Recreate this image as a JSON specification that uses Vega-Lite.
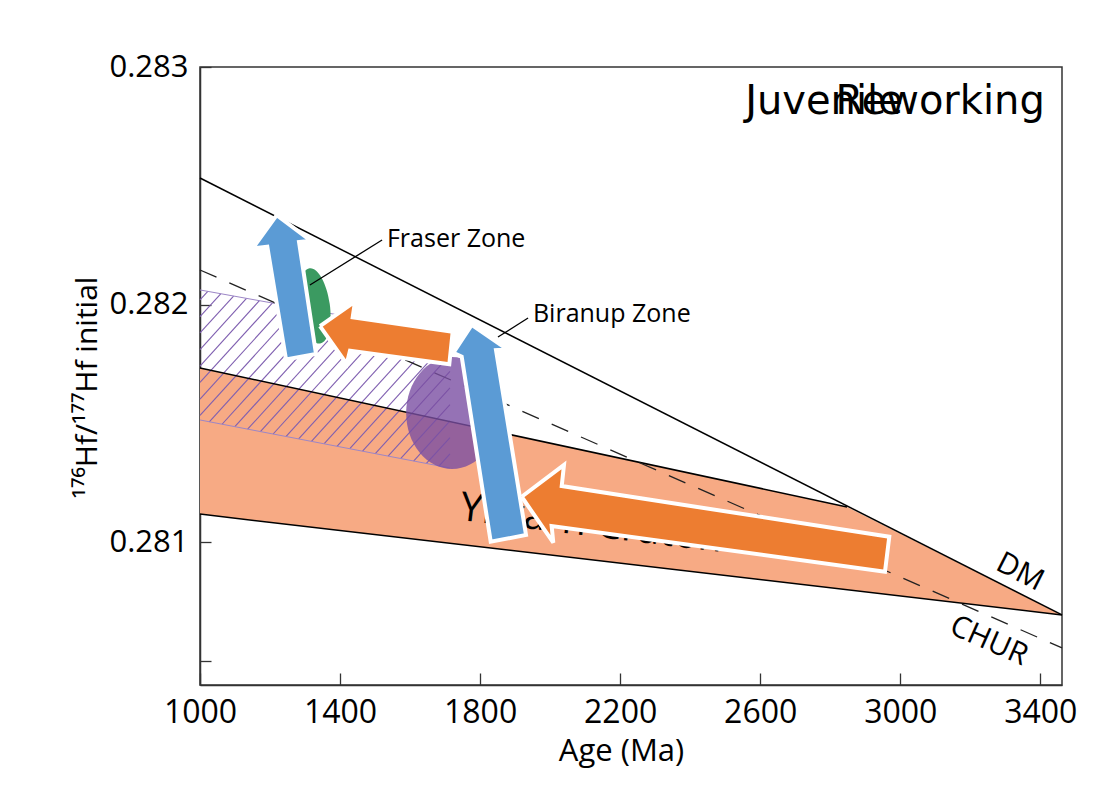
{
  "$schema": "https://vega.github.io/schema/vega-lite/v6.json",
  "width": 862,
  "height": 618,
  "autosize": {"type": "none"},
  "padding": {"left": 200, "top": 67, "right": 57, "bottom": 110},
  "background": "white",
  "config": {"view": {"stroke": "#333333", "strokeWidth": 1.5}, "font": "Open Sans"},
  "datasets": {
    "salmon": [
      {"x": 1000, "y": 0.281734, "i": 0},
      {"x": 2848, "y": 0.281149, "i": 1},
      {"x": 3462, "y": 0.280695, "i": 2},
      {"x": 1000, "y": 0.281119, "i": 3}
    ],
    "blines": [
      {"id": "DM", "x": 1000, "y": 0.282533}, {"id": "DM", "x": 3462, "y": 0.280695},
      {"id": "top", "x": 1000, "y": 0.281734}, {"id": "top", "x": 2848, "y": 0.281149},
      {"id": "bot", "x": 1000, "y": 0.281119}, {"id": "bot", "x": 3462, "y": 0.280695}
    ],
    "chur": [{"x": 1000, "y": 0.282146}, {"x": 3462, "y": 0.280556}],
    "hbound": [
      {"id": "t", "x": 1000, "y": 0.282062}, {"id": "t", "x": 1714, "y": 0.281872},
      {"id": "b", "x": 1000, "y": 0.281515}, {"id": "b", "x": 1714, "y": 0.281313}
    ],
    "hatch": [
      {"x": 1000, "y": 0.28202, "x2": 1022.3, "y2": 0.282056},
      {"x": 1000, "y": 0.28195, "x2": 1059.1, "y2": 0.282046},
      {"x": 1000, "y": 0.281881, "x2": 1095.9, "y2": 0.282036},
      {"x": 1000, "y": 0.281811, "x2": 1132.8, "y2": 0.282027},
      {"x": 1000, "y": 0.281742, "x2": 1169.6, "y2": 0.282017},
      {"x": 1000, "y": 0.281673, "x2": 1206.4, "y2": 0.282007},
      {"x": 1000, "y": 0.281603, "x2": 1243.2, "y2": 0.281997},
      {"x": 1000, "y": 0.281534, "x2": 1280.0, "y2": 0.281988},
      {"x": 1026.5, "y": 0.281507, "x2": 1316.9, "y2": 0.281978},
      {"x": 1063.0, "y": 0.281497, "x2": 1353.7, "y2": 0.281968},
      {"x": 1099.5, "y": 0.281487, "x2": 1390.5, "y2": 0.281958},
      {"x": 1136.0, "y": 0.281476, "x2": 1427.3, "y2": 0.281949},
      {"x": 1172.4, "y": 0.281466, "x2": 1464.1, "y2": 0.281939},
      {"x": 1208.9, "y": 0.281456, "x2": 1500.9, "y2": 0.281929},
      {"x": 1245.4, "y": 0.281445, "x2": 1537.8, "y2": 0.281919},
      {"x": 1281.8, "y": 0.281435, "x2": 1574.6, "y2": 0.28191},
      {"x": 1318.3, "y": 0.281425, "x2": 1611.4, "y2": 0.2819},
      {"x": 1354.8, "y": 0.281415, "x2": 1648.2, "y2": 0.28189},
      {"x": 1391.3, "y": 0.281404, "x2": 1685.0, "y2": 0.28188},
      {"x": 1427.8, "y": 0.281394, "x2": 1714, "y2": 0.281858},
      {"x": 1464.2, "y": 0.281384, "x2": 1714, "y2": 0.281788},
      {"x": 1500.7, "y": 0.281373, "x2": 1714, "y2": 0.281719},
      {"x": 1537.2, "y": 0.281363, "x2": 1714, "y2": 0.28165},
      {"x": 1573.6, "y": 0.281353, "x2": 1714, "y2": 0.28158},
      {"x": 1610.1, "y": 0.281342, "x2": 1714, "y2": 0.281511},
      {"x": 1646.6, "y": 0.281332, "x2": 1714, "y2": 0.281441},
      {"x": 1683.1, "y": 0.281322, "x2": 1714, "y2": 0.281372}
    ],
    "arrows": [
      {"a": "blue1", "i": 0, "x": 1219.1, "y": 0.282377},
      {"a": "blue1", "i": 1, "x": 1316.2, "y": 0.282269},
      {"a": "blue1", "i": 2, "x": 1282.8, "y": 0.282264},
      {"a": "blue1", "i": 3, "x": 1331.3, "y": 0.281793},
      {"a": "blue1", "i": 4, "x": 1245.6, "y": 0.28177},
      {"a": "blue1", "i": 5, "x": 1192.2, "y": 0.282244},
      {"a": "blue1", "i": 6, "x": 1150.5, "y": 0.282237},
      {"a": "blue1", "i": 7, "x": 1219.1, "y": 0.282377},
      {"a": "orange1", "i": 0, "x": 1342.7, "y": 0.28191},
      {"a": "orange1", "i": 1, "x": 1442.7, "y": 0.282013},
      {"a": "orange1", "i": 2, "x": 1436.1, "y": 0.281947},
      {"a": "orange1", "i": 3, "x": 1721.7, "y": 0.281886},
      {"a": "orange1", "i": 4, "x": 1712.0, "y": 0.281749},
      {"a": "orange1", "i": 5, "x": 1428.4, "y": 0.281806},
      {"a": "orange1", "i": 6, "x": 1419.0, "y": 0.281751},
      {"a": "orange1", "i": 7, "x": 1342.7, "y": 0.28191},
      {"a": "blue2", "i": 0, "x": 1776.0, "y": 0.281915},
      {"a": "blue2", "i": 1, "x": 1877.7, "y": 0.281812},
      {"a": "blue2", "i": 2, "x": 1845.4, "y": 0.281809},
      {"a": "blue2", "i": 3, "x": 1931.1, "y": 0.281031},
      {"a": "blue2", "i": 4, "x": 1830.3, "y": 0.281003},
      {"a": "blue2", "i": 5, "x": 1747.4, "y": 0.281781},
      {"a": "blue2", "i": 6, "x": 1723.4, "y": 0.281797},
      {"a": "blue2", "i": 7, "x": 1776.0, "y": 0.281915},
      {"a": "orange2", "i": 0, "x": 1918.8, "y": 0.281192},
      {"a": "orange2", "i": 1, "x": 2039.6, "y": 0.281326},
      {"a": "orange2", "i": 2, "x": 2033.1, "y": 0.281237},
      {"a": "orange2", "i": 3, "x": 2968.7, "y": 0.281024},
      {"a": "orange2", "i": 4, "x": 2956.4, "y": 0.280877},
      {"a": "orange2", "i": 5, "x": 2004.3, "y": 0.281069},
      {"a": "orange2", "i": 6, "x": 2009.1, "y": 0.280999},
      {"a": "orange2", "i": 7, "x": 1918.8, "y": 0.281192}
    ],
    "leaders": [
      {"x": 1314, "y": 0.282083, "x2": 1520, "y2": 0.282272},
      {"x": 1851, "y": 0.281864, "x2": 1937, "y2": 0.281944}
    ]
  },
  "encoding": {
    "x": {
      "field": "x", "type": "quantitative",
      "scale": {"domain": [1000, 3462], "nice": false, "zero": false},
      "axis": {
        "title": "Age (Ma)", "values": [1000, 1400, 1800, 2200, 2600, 3000, 3400], "format": "d",
        "grid": false, "tickSize": -12, "tickColor": "#333333", "tickWidth": 1.3,
        "domainColor": "#333333", "domainWidth": 1.5,
        "labelFont": "Open Sans", "labelFontSize": 32, "labelColor": "#000000",
        "labelBaseline": "alphabetic", "labelPadding": 49, "labelFlush": false, "labelOverlap": false,
        "titleFont": "Open Sans", "titleFontSize": 31, "titleFontWeight": "normal", "titleColor": "#000000",
        "titleX": 421, "titleY": 75, "titleBaseline": "alphabetic"
      }
    },
    "y": {
      "field": "y", "type": "quantitative",
      "scale": {"domain": [0.2804, 0.283], "nice": false, "zero": false},
      "axis": {
        "title": "¹⁷⁶Hf/¹⁷⁷Hf initial", "values": [0.2805, 0.281, 0.282, 0.283],
        "labelExpr": "datum.value < 0.2808 ? '' : format(datum.value, '.3f')",
        "grid": false, "tickSize": -11, "tickColor": "#333333", "tickWidth": 1.3,
        "domainColor": "#333333", "domainWidth": 1.5,
        "labelFont": "Open Sans", "labelFontSize": 31, "labelColor": "#000000",
        "labelBaseline": "middle", "labelPadding": 23, "labelFlush": false, "labelOverlap": false,
        "titleFont": "Open Sans", "titleFontSize": 30, "titleFontWeight": "normal", "titleColor": "#000000",
        "titleX": -104, "titleY": 320, "titleBaseline": "alphabetic"
      }
    }
  },
  "layer": [
    {
      "data": {"name": "salmon"},
      "mark": {"type": "line", "filled": true, "fill": "#F7AA84", "stroke": "transparent", "strokeWidth": 0},
      "encoding": {"order": {"field": "i", "type": "quantitative"}}
    },
    {
      "data": {"name": "hatch"},
      "mark": {"type": "rule", "color": "#7F5FB0", "strokeWidth": 1.1},
      "encoding": {"x2": {"field": "x2"}, "y2": {"field": "y2"}}
    },
    {
      "data": {"name": "hbound"},
      "mark": {"type": "line", "color": "#9C86C6", "strokeWidth": 1},
      "encoding": {"detail": {"field": "id"}}
    },
    {
      "data": {"name": "blines"},
      "mark": {"type": "line", "color": "#000000", "strokeWidth": 1.5},
      "encoding": {"detail": {"field": "id"}}
    },
    {
      "data": {"name": "chur"},
      "mark": {"type": "line", "color": "#222222", "strokeWidth": 1.3, "strokeDash": [18, 14]},
      "encoding": {}
    },
    {
      "data": {"values": [{"x": 1720, "y": 0.281544}]},
      "mark": {"type": "point", "filled": true, "color": "#7B4FA3", "opacity": 0.8, "strokeWidth": 0, "size": 12544,
        "shape": "M-0.82,0C-0.82,-0.5523,-0.4529,-1,0,-1C0.4529,-1,0.82,-0.5523,0.82,0C0.82,0.5523,0.4529,1,0,1C-0.4529,1,-0.82,0.5523,-0.82,0Z"}
    },
    {
      "data": {"values": [{"x": 1328, "y": 0.281995}]},
      "mark": {"type": "point", "filled": true, "color": "#3B9A61", "opacity": 1, "strokeWidth": 0, "size": 5776, "angle": -8,
        "shape": "M-0.395,0C-0.395,-0.5523,-0.2182,-1,0,-1C0.2182,-1,0.395,-0.5523,0.395,0C0.395,0.5523,0.2182,1,0,1C-0.2182,1,-0.395,0.5523,-0.395,0Z"}
    },
    {
      "data": {"values": [{"x": 2114, "y": 0.281027, "t": "Yilgarn Craton"}]},
      "mark": {"type": "text", "font": "Open Sans", "fontSize": 40, "angle": 7, "align": "center", "baseline": "alphabetic", "color": "#000000"},
      "encoding": {"text": {"field": "t"}}
    },
    {
      "data": {"name": "leaders"},
      "mark": {"type": "rule", "color": "#000000", "strokeWidth": 1.3},
      "encoding": {"x2": {"field": "x2"}, "y2": {"field": "y2"}}
    },
    {
      "data": {"name": "arrows"},
      "transform": [{"filter": "datum.a === 'blue1'"}],
      "mark": {"type": "line", "filled": true, "fill": "#5B9BD5", "stroke": "white", "strokeWidth": 4, "strokeJoin": "miter"},
      "encoding": {"order": {"field": "i", "type": "quantitative"}}
    },
    {
      "data": {"name": "arrows"},
      "transform": [{"filter": "datum.a === 'orange1'"}],
      "mark": {"type": "line", "filled": true, "fill": "#ED7D31", "stroke": "white", "strokeWidth": 4, "strokeJoin": "miter"},
      "encoding": {"order": {"field": "i", "type": "quantitative"}}
    },
    {
      "data": {"name": "arrows"},
      "transform": [{"filter": "datum.a === 'blue2'"}],
      "mark": {"type": "line", "filled": true, "fill": "#5B9BD5", "stroke": "white", "strokeWidth": 4, "strokeJoin": "miter"},
      "encoding": {"order": {"field": "i", "type": "quantitative"}}
    },
    {
      "data": {"name": "arrows"},
      "transform": [{"filter": "datum.a === 'orange2'"}],
      "mark": {"type": "line", "filled": true, "fill": "#ED7D31", "stroke": "white", "strokeWidth": 4, "strokeJoin": "miter"},
      "encoding": {"order": {"field": "i", "type": "quantitative"}}
    },
    {
      "data": {"values": [{"x": 1534, "y": 0.282276, "t": "Fraser Zone"}, {"x": 1951, "y": 0.281961, "t": "Biranup Zone"}]},
      "mark": {"type": "text", "font": "Open Sans", "fontSize": 25, "align": "left", "baseline": "middle", "color": "#000000"},
      "encoding": {"text": {"field": "t"}}
    },
    {
      "data": {"values": [{"x": 3342, "y": 0.280875, "t": "DM"}]},
      "mark": {"type": "text", "font": "Open Sans", "fontSize": 30, "angle": 27, "align": "center", "baseline": "middle", "color": "#000000"},
      "encoding": {"text": {"field": "t"}}
    },
    {
      "data": {"values": [{"x": 3253, "y": 0.280585, "t": "CHUR"}]},
      "mark": {"type": "text", "font": "Open Sans", "fontSize": 30, "angle": 24, "align": "center", "baseline": "middle", "color": "#000000"},
      "encoding": {"text": {"field": "t"}}
    },
    {
      "data": {"values": [{"x": 2557, "y": 0.282802, "t": "Juvenile"}]},
      "mark": {"type": "text", "font": "DejaVu Sans", "fontSize": 40, "align": "left", "baseline": "alphabetic", "color": "#000000"},
      "encoding": {"text": {"field": "t"}}
    },
    {
      "data": {"values": [{"x": 3413, "y": 0.282802, "t": "Reworking"}]},
      "mark": {"type": "text", "font": "DejaVu Sans", "fontSize": 40, "align": "right", "baseline": "alphabetic", "color": "#000000"},
      "encoding": {"text": {"field": "t"}}
    }
  ]
}
